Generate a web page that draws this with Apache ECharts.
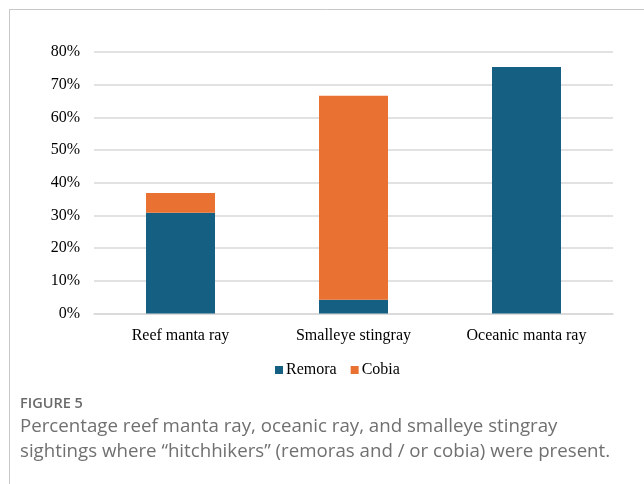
<!DOCTYPE html>
<html>
<head>
<meta charset="utf-8">
<script src="https://cdn.jsdelivr.net/npm/echarts@6/dist/echarts.min.js"></script>
<style>
  html, body { margin: 0; padding: 0; background: #fff; }
  #chart { width: 644px; height: 484px; }
</style>
</head>
<body>
<div id="chart"></div>
<script>
// Species groups along the x axis
const categories = ['Reef manta ray', 'Smalleye stingray', 'Oceanic manta ray'];
// Share of sightings (%) with each hitchhiker type
const remora = [30.8, 4.2, 75.4];
const cobia = [6.1, 62.4, 0];
// Y axis range and step (%)
const yMin = 0, yMax = 80, yStep = 10;

const captionTitle = 'FIGURE 5';
const captionLines = [
  'Percentage reef manta ray, oceanic ray, and smalleye stingray',
  'sightings where \u201chitchhikers\u201d (remoras and / or cobia) were present.'
];

const serif = '"Liberation Serif", "Times New Roman", serif';
const sans = '"Open Sans", "Noto Sans", sans-serif';

const chart = echarts.init(document.getElementById('chart'), null, { renderer: 'canvas' });
chart.setOption({
  animation: false,
  backgroundColor: '#ffffff',
  grid: { left: 94, right: 31, top: 52, bottom: 170.5, containLabel: false },
  legend: {
    data: ['Remora', 'Cobia'],
    top: 357,
    left: 270,
    icon: 'rect',
    itemWidth: 8,
    itemHeight: 8,
    itemGap: 14,
    textStyle: { fontFamily: serif, fontSize: 16, color: '#000', padding: [0, 0, 0, -2] }
  },
  xAxis: {
    type: 'category',
    data: categories,
    axisLine: { show: true, lineStyle: { color: '#d9d9d9', width: 1.5 } },
    axisTick: { show: false },
    axisLabel: { fontFamily: serif, fontSize: 16, color: '#000', margin: 14 }
  },
  yAxis: {
    type: 'value',
    min: yMin,
    max: yMax,
    interval: yStep,
    axisLine: { show: false },
    axisTick: { show: false },
    axisLabel: { fontFamily: serif, fontSize: 16, color: '#000', margin: 14, formatter: '{value}%' },
    splitLine: { lineStyle: { color: '#d9d9d9', width: 1.5 } }
  },
  series: [
    {
      name: 'Remora', type: 'bar', stack: 'total', data: remora,
      barWidth: 69, itemStyle: { color: '#156082' }
    },
    {
      name: 'Cobia', type: 'bar', stack: 'total', data: cobia,
      barWidth: 69, itemStyle: { color: '#e97132' }
    }
  ],
  graphic: [
    // Figure frame: top and left rules
    { type: 'line', shape: { x1: 9, y1: 9.5, x2: 644, y2: 9.5 }, style: { stroke: '#c8c8c8', lineWidth: 1 } },
    { type: 'line', shape: { x1: 9.5, y1: 9, x2: 9.5, y2: 484 }, style: { stroke: '#c8c8c8', lineWidth: 1 } },
    {
      type: 'text', left: 20, top: 396,
      style: { text: captionTitle, fontFamily: sans, fontSize: 14.5, fontWeight: 600, fill: '#6a6a6a' }
    },
    {
      type: 'text', left: 20, top: 417,
      style: { text: captionLines[0], fontFamily: sans, fontSize: 18.7, fill: '#707070' }
    },
    {
      type: 'text', left: 20, top: 442,
      style: { text: captionLines[1], fontFamily: sans, fontSize: 18.7, fill: '#707070' }
    }
  ]
});
</script>
</body>
</html>
